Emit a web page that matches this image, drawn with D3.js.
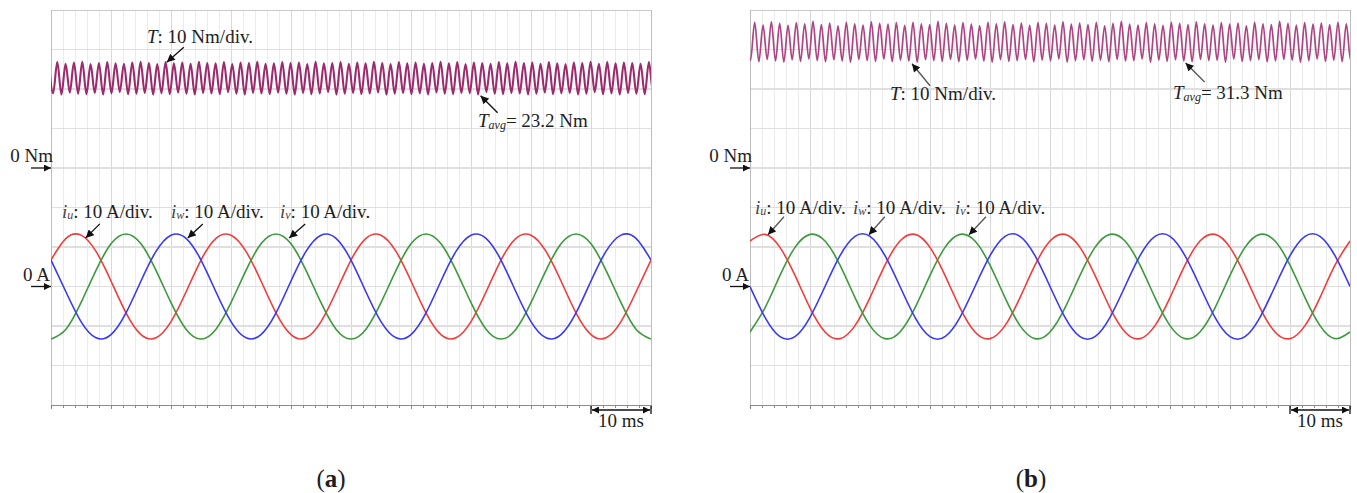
<!DOCTYPE html>
<html>
<head>
<meta charset="utf-8">
<script src="https://cdn.jsdelivr.net/npm/d3@7"></script>
<style>
  html, body { margin: 0; padding: 0; background: #fff; }
  svg { display: block; }
  text { font-family: "Liberation Serif", "Times New Roman", serif; fill: #1e1e1e; }
</style>
</head>
<body>
<svg id="chart" width="1357" height="493"></svg>
<script>
// ---------------------------------------------------------------
// Oscilloscope captures: torque ripple and three phase currents
// Time base 10 ms/div (100 ms window); torque 10 Nm/div; current 10 A/div
// ---------------------------------------------------------------

// sample instants for the phase-current traces (ms)
const currentTimes = [0, 2.5, 5, 7.5, 10, 12.5, 15, 17.5, 20, 22.5, 25, 27.5, 30, 32.5, 35, 37.5,
  40, 42.5, 45, 47.5, 50, 52.5, 55, 57.5, 60, 62.5, 65, 67.5, 70, 72.5, 75, 77.5, 80, 82.5, 85,
  87.5, 90, 92.5, 95, 97.5, 100];

// (a) phase currents, A
const iuA = [6.7, 12.2, 13.0, 8.9, 1.4, -6.7, -12.2, -13.0, -8.9, -1.4,
  6.7, 12.2, 13.0, 8.9, 1.4, -6.7, -12.2, -13.0, -8.9, -1.4,
  6.7, 12.2, 13.0, 8.9, 1.4, -6.7, -12.2, -13.0, -8.9, -1.4,
  6.7, 12.2, 13.0, 8.9, 1.4, -6.7, -12.2, -13.0, -8.9, -1.4, 6.7];
const ivA = [-13.3, -10.8, -4.1, 4.1, 10.8, 13.3, 10.8, 4.1, -4.1, -10.8,
  -13.3, -10.8, -4.1, 4.1, 10.8, 13.3, 10.8, 4.1, -4.1, -10.8,
  -13.3, -10.8, -4.1, 4.1, 10.8, 13.3, 10.8, 4.1, -4.1, -10.8,
  -13.3, -10.8, -4.1, 4.1, 10.8, 13.3, 10.8, 4.1, -4.1, -10.8, -13.3];
const iwA = [6.7, -1.4, -8.9, -13.0, -12.2, -6.7, 1.4, 8.9, 13.0, 12.2,
  6.7, -1.4, -8.9, -13.0, -12.2, -6.7, 1.4, 8.9, 13.0, 12.2,
  6.7, -1.4, -8.9, -13.0, -12.2, -6.7, 1.4, 8.9, 13.0, 12.2,
  6.7, -1.4, -8.9, -13.0, -12.2, -6.7, 1.4, 8.9, 13.0, 12.2, 6.7];

// (b) phase currents, A
const iuB = [11.5, 13.2, 9.9, 2.8, -5.4, -11.5, -13.2, -9.9, -2.8, 5.4,
  11.5, 13.2, 9.9, 2.8, -5.4, -11.5, -13.2, -9.9, -2.8, 5.4,
  11.5, 13.2, 9.9, 2.8, -5.4, -11.5, -13.2, -9.9, -2.8, 5.4,
  11.5, 13.2, 9.9, 2.8, -5.4, -11.5, -13.2, -9.9, -2.8, 5.4, 11.5];
const ivB = [-11.5, -5.4, 2.8, 9.9, 13.2, 11.5, 5.4, -2.8, -9.9, -13.2,
  -11.5, -5.4, 2.8, 9.9, 13.2, 11.5, 5.4, -2.8, -9.9, -13.2,
  -11.5, -5.4, 2.8, 9.9, 13.2, 11.5, 5.4, -2.8, -9.9, -13.2,
  -11.5, -5.4, 2.8, 9.9, 13.2, 11.5, 5.4, -2.8, -9.9, -13.2, -11.5];
const iwB = [0, -7.8, -12.7, -12.7, -7.8, 0, 7.8, 12.7, 12.7, 7.8,
  0, -7.8, -12.7, -12.7, -7.8, 0, 7.8, 12.7, 12.7, 7.8,
  0, -7.8, -12.7, -12.7, -7.8, 0, 7.8, 12.7, 12.7, 7.8,
  0, -7.8, -12.7, -12.7, -7.8, 0, 7.8, 12.7, 12.7, 7.8, 0];

// torque ripple extrema, Nm (successive peaks / troughs, half a ripple period apart)
const torqueHalfPeriod = 0.6944;       // ms between a peak and the following trough
const torqueStartA = -0.344;           // instant of the first listed peak, ms
const torqueStartB = -0.608;
const torquePeaksA = [26.5, 26.8, 26.4, 26.7, 26.9, 26.3, 26.6, 26.8, 26.5, 26.4,
  26.7, 26.9, 26.6, 26.3, 26.8, 26.5, 26.7, 26.4, 26.9, 26.6,
  26.5, 26.8, 26.3, 26.7, 26.6, 26.9, 26.4, 26.5, 26.8, 26.6,
  26.7, 26.3, 26.9, 26.5, 26.6, 26.8, 26.4, 26.7, 26.5, 26.9,
  26.6, 26.3, 26.8, 26.5, 26.7, 26.4, 26.6, 26.9, 26.5, 26.8,
  26.3, 26.7, 26.6, 26.4, 26.8, 26.5, 26.9, 26.6, 26.7, 26.4,
  26.8, 26.5, 26.3, 26.7, 26.6, 26.9, 26.4, 26.8, 26.5, 26.7,
  26.6, 26.4, 26.8, 26.5, 26.7];
const torqueTroughsA = [18.9, 18.6, 19.1, 18.8, 18.7, 19.0, 18.6, 18.9, 19.2, 18.7,
  18.8, 19.0, 18.6, 18.9, 18.7, 19.1, 18.8, 18.6, 19.0, 18.9,
  18.7, 19.2, 18.8, 18.6, 19.0, 18.9, 18.7, 19.1, 18.8, 18.6,
  19.0, 18.7, 18.9, 19.2, 18.6, 18.8, 19.0, 18.7, 18.9, 19.1,
  18.6, 18.8, 19.0, 18.7, 18.9, 18.6, 19.1, 18.8, 18.7, 19.0,
  18.9, 18.6, 19.2, 18.8, 18.7, 19.0, 18.9, 18.6, 18.8, 19.1,
  18.7, 18.9, 19.0, 18.6, 18.8, 19.2, 18.7, 18.9, 18.6, 19.0,
  18.8, 18.7, 19.1, 18.9, 18.6];
const torquePeaksB = [36.4, 36.9, 36.2, 37.0, 36.6, 36.1, 36.8, 36.5, 37.1, 36.3,
  36.7, 36.0, 36.9, 36.5, 36.2, 37.0, 36.6, 36.4, 36.8, 36.1,
  36.9, 36.5, 36.3, 37.1, 36.6, 36.2, 36.8, 36.4, 36.0, 36.9,
  36.5, 37.0, 36.3, 36.7, 36.1, 36.8, 36.6, 36.2, 37.0, 36.4,
  36.7, 36.3, 36.9, 36.0, 36.6, 37.1, 36.4, 36.2, 36.8, 36.5,
  36.1, 36.9, 36.6, 36.3, 37.0, 36.5, 36.2, 36.8, 36.4, 36.7,
  36.0, 36.9, 36.5, 36.3, 37.1, 36.6, 36.2, 36.8, 36.4, 36.7,
  36.3, 36.9, 36.5, 36.1, 36.8];
const torqueTroughsB = [27.3, 26.9, 27.5, 27.1, 26.8, 27.4, 27.0, 27.6, 27.2, 26.9,
  27.4, 27.1, 26.8, 27.5, 27.2, 27.0, 27.6, 26.9, 27.3, 27.1,
  26.8, 27.4, 27.2, 27.0, 27.5, 26.9, 27.3, 27.6, 27.1, 26.8,
  27.4, 27.0, 27.2, 27.5, 26.9, 27.3, 27.1, 27.6, 26.8, 27.2,
  27.4, 27.0, 27.3, 26.9, 27.5, 27.1, 27.2, 27.6, 26.8, 27.3,
  27.0, 27.4, 27.1, 26.9, 27.5, 27.2, 27.3, 26.8, 27.6, 27.0,
  27.2, 27.4, 26.9, 27.1, 27.5, 27.3, 26.8, 27.2, 27.6, 27.0,
  27.3, 26.9, 27.4, 27.1, 27.2];

// axis ranges (screen divisions: 10 horizontal x 10 vertical)
const timeDomain = [0, 100];          // ms
const torqueDomain = [-60, 40];       // Nm, 0 Nm four divisions below the top
const currentDomain = [-30, 70];      // A, 0 A three divisions above the bottom
const minorTimeStep = 2;              // ms
const majorTimeStep = 10;             // ms

const averageTorque = ["23.2", "31.3"];
const panelNames = ["a", "b"];

// ---------------------------------------------------------------
const svg = d3.select("#chart");
const defs = svg.append("defs");
const labelSize = 19;

function addArrowMarker(id, color, w, h) {
  defs.append("marker")
    .attr("id", id)
    .attr("viewBox", "0 0 10 10")
    .attr("refX", 10).attr("refY", 5)
    .attr("markerUnits", "userSpaceOnUse")
    .attr("markerWidth", w).attr("markerHeight", h)
    .attr("orient", "auto-start-reverse")
    .append("path")
    .attr("d", "M0,0 L10,5 L0,10 z")
    .attr("fill", color);
}
addArrowMarker("head", "#111", 9, 8);
addArrowMarker("headSmall", "#111", 8, 7);

function torqueSeries(peaks, troughs, start) {
  const pts = [];
  const n = Math.min(peaks.length, troughs.length);
  for (let k = 0; k < n; k++) {
    pts.push({ t: start + 2 * k * torqueHalfPeriod, v: peaks[k] });
    pts.push({ t: start + (2 * k + 1) * torqueHalfPeriod, v: troughs[k] });
  }
  return pts;
}

function zipSeries(times, values) {
  return times.map((t, i) => ({ t: t, v: values[i] }));
}

const panels = [
  {
    name: panelNames[0], left: 51, right: 651, top: 10, bottom: 405,
    torque: torqueSeries(torquePeaksA, torqueTroughsA, torqueStartA),
    torqueColor: "#9c2a6c", torqueWidth: 2.1,
    iu: iuA, iv: ivA, iw: iwA,
    tavg: averageTorque[0],
    // annotation arrows: tip given in data units, tail as a pixel offset
    tLabel: { tip: [19.3, 26.8], tail: [17, -15], text: [147, 43] },
    avgLabel: { tip: [71.6, 18.3], tail: [17, 17], text: [478, 127] },
    iuLabel: { tip: [5.8, 12.3], tail: [14, -14], text: [62, 218] },
    iwLabel: { tip: [22.8, 12.3], tail: [15, -14], text: [171, 218] },
    ivLabel: { tip: [39.7, 12.3], tail: [16, -14], text: [280, 218] },
    arrowColor: "#111",
    title: [331, 487]
  },
  {
    name: panelNames[1], left: 750, right: 1350, top: 10, bottom: 405,
    torque: torqueSeries(torquePeaksB, torqueTroughsB, torqueStartB),
    torqueColor: "#ad4582", torqueWidth: 1.7,
    iu: iuB, iv: ivB, iw: iwB,
    tavg: averageTorque[1],
    tLabel: { tip: [27.0, 26.4], tail: [18, 22], text: [890, 100] },
    avgLabel: { tip: [72.6, 26.6], tail: [19, 19], text: [1173, 99] },
    iuLabel: { tip: [3.0, 13.1], tail: [16, -18], text: [755, 214] },
    iwLabel: { tip: [19.8, 13.1], tail: [16, -18], text: [853, 214] },
    ivLabel: { tip: [36.5, 13.1], tail: [17, -18], text: [955, 214] },
    arrowColor: "#555",
    title: [1031, 487]
  }
];

panels.forEach((p, idx) => {
  const g = svg.append("g");
  const x = d3.scaleLinear().domain(timeDomain).range([p.left, p.right]);
  const yT = d3.scaleLinear().domain(torqueDomain).range([p.bottom, p.top]);
  const yI = d3.scaleLinear().domain(currentDomain).range([p.bottom, p.top]);

  // grid: minor and major vertical lines, major horizontal lines
  const minorTimes = d3.range(timeDomain[0] + minorTimeStep, timeDomain[1], minorTimeStep)
    .filter(t => t % majorTimeStep !== 0);
  const majorTimes = d3.range(timeDomain[0] + majorTimeStep, timeDomain[1], majorTimeStep);
  const grid = g.append("g").attr("shape-rendering", "crispEdges");
  grid.selectAll(".vminor").data(minorTimes).join("line")
    .attr("x1", d => x(d)).attr("x2", d => x(d))
    .attr("y1", p.top).attr("y2", p.bottom)
    .attr("stroke", "#ebebeb").attr("stroke-width", 1);
  grid.selectAll(".vmajor").data(majorTimes).join("line")
    .attr("x1", d => x(d)).attr("x2", d => x(d))
    .attr("y1", p.top).attr("y2", p.bottom)
    .attr("stroke", "#d8d8d8").attr("stroke-width", 1);
  const hLevels = d3.range(currentDomain[0] + 10, currentDomain[1], 10);
  grid.selectAll(".hmajor").data(hLevels).join("line")
    .attr("x1", p.left).attr("x2", p.right)
    .attr("y1", d => yI(d)).attr("y2", d => yI(d))
    .attr("stroke", "#dfdfdf").attr("stroke-width", 1.2);

  // frame
  grid.append("line").attr("x1", p.left).attr("x2", p.right).attr("y1", p.top).attr("y2", p.top)
    .attr("stroke", "#c9c9c9");
  grid.append("line").attr("x1", p.left).attr("x2", p.left).attr("y1", p.top).attr("y2", p.bottom)
    .attr("stroke", "#bdbdbd");
  grid.append("line").attr("x1", p.right).attr("x2", p.right).attr("y1", p.top).attr("y2", p.bottom)
    .attr("stroke", "#bdbdbd");

  // time axis with 2 ms minor ticks
  const axis = d3.axisBottom(x)
    .tickValues(d3.range(timeDomain[0], timeDomain[1] + 0.001, minorTimeStep))
    .tickSize(3).tickFormat("");
  const ax = g.append("g").attr("transform", `translate(0,${p.bottom})`).call(axis);
  ax.select(".domain").attr("stroke", "#8a8a8a").attr("stroke-width", 1.2);
  ax.selectAll(".tick line").attr("stroke", "#8a8a8a")
    .attr("y2", d => (d % majorTimeStep === 0 ? 4 : 3));

  // traces, clipped to the screen area
  const clipId = "clip" + idx;
  defs.append("clipPath").attr("id", clipId).append("rect")
    .attr("x", p.left).attr("y", p.top - 2)
    .attr("width", p.right - p.left).attr("height", p.bottom - p.top + 4);
  const traces = g.append("g").attr("clip-path", `url(#${clipId})`);

  const currentLine = d3.line().x(d => x(d.t)).y(d => yI(d.v)).curve(d3.curveNatural);
  const torqueLine = d3.line().x(d => x(d.t)).y(d => yT(d.v)).curve(d3.curveMonotoneX);

  traces.append("path").datum(p.torque).attr("d", torqueLine)
    .attr("fill", "none").attr("stroke", p.torqueColor)
    .attr("stroke-width", p.torqueWidth).attr("stroke-linejoin", "round");

  const phases = [
    { values: p.iu, color: "#f23c3c" },
    { values: p.iv, color: "#3c9a3c" },
    { values: p.iw, color: "#3a3af0" }
  ];
  phases.forEach(ph => {
    traces.append("path").datum(zipSeries(currentTimes, ph.values)).attr("d", currentLine)
      .attr("fill", "none").attr("stroke", ph.color).attr("stroke-width", 1.6);
  });

  // zero reference markers
  const zeroMarks = [
    { label: "0 Nm", y: yT(0), dx: 2 },
    { label: "0 A", y: yI(0), dx: -1 }
  ];
  zeroMarks.forEach(z => {
    g.append("text").attr("x", p.left + z.dx).attr("y", z.y - 6)
      .attr("text-anchor", "end").attr("font-size", labelSize).text(z.label);
    g.append("line").attr("x1", p.left - 20).attr("x2", p.left).attr("y1", z.y).attr("y2", z.y)
      .attr("stroke", "#111").attr("stroke-width", 1.3).attr("marker-end", "url(#headSmall)");
  });

  // annotation helper
  function annotate(a, scaleY, build) {
    const tx = x(a.tip[0]), ty = scaleY(a.tip[1]);
    g.append("line")
      .attr("x1", tx + a.tail[0]).attr("y1", ty + a.tail[1])
      .attr("x2", tx).attr("y2", ty)
      .attr("stroke", p.arrowColor).attr("stroke-width", 1.3)
      .attr("marker-end", "url(#head)");
    const t = g.append("text").attr("x", a.text[0]).attr("y", a.text[1]).attr("font-size", labelSize);
    build(t);
  }

  annotate(p.tLabel, yT, t => {
    t.append("tspan").attr("font-style", "italic").text("T");
    t.append("tspan").text(": 10 Nm/div.");
  });
  annotate(p.avgLabel, yT, t => {
    t.append("tspan").attr("font-style", "italic").text("T");
    t.append("tspan").attr("font-style", "italic").attr("font-size", 12).attr("dy", 2).text("avg");
    t.append("tspan").attr("dy", -2).text("= " + p.tavg + " Nm");
  });
  const phaseLabels = [
    { cfg: p.iuLabel, sub: "u" },
    { cfg: p.iwLabel, sub: "w" },
    { cfg: p.ivLabel, sub: "v" }
  ];
  phaseLabels.forEach(pl => {
    annotate(pl.cfg, yI, t => {
      t.append("tspan").attr("font-style", "italic").attr("fill", "#444").text("i");
      t.append("tspan").attr("font-style", "italic").attr("fill", "#444")
        .attr("font-size", 12).attr("dy", 1).text(pl.sub);
      t.append("tspan").attr("dy", -1).text(": 10 A/div.");
    });
  });

  // 10 ms scale bar
  const sbY = p.bottom + 5;
  const s0 = x(timeDomain[1] - majorTimeStep), s1 = x(timeDomain[1]);
  g.append("line").attr("x1", s0 + 1).attr("x2", s1 - 1).attr("y1", sbY).attr("y2", sbY)
    .attr("stroke", "#111").attr("stroke-width", 1.3)
    .attr("marker-start", "url(#headSmall)").attr("marker-end", "url(#headSmall)");
  [s0, s1].forEach(sx => {
    g.append("line").attr("x1", sx).attr("x2", sx).attr("y1", p.bottom + 1).attr("y2", p.bottom + 9)
      .attr("stroke", "#111").attr("stroke-width", 1.3);
  });
  g.append("text").attr("x", (s0 + s1) / 2).attr("y", p.bottom + 22)
    .attr("text-anchor", "middle").attr("font-size", labelSize).text("10 ms");

  // panel caption
  const cap = g.append("text").attr("x", p.title[0]).attr("y", p.title[1])
    .attr("text-anchor", "middle").attr("font-size", 25);
  cap.append("tspan").text("(");
  cap.append("tspan").attr("font-weight", "bold").text(p.name);
  cap.append("tspan").text(")");
});
</script>
</body>
</html>
